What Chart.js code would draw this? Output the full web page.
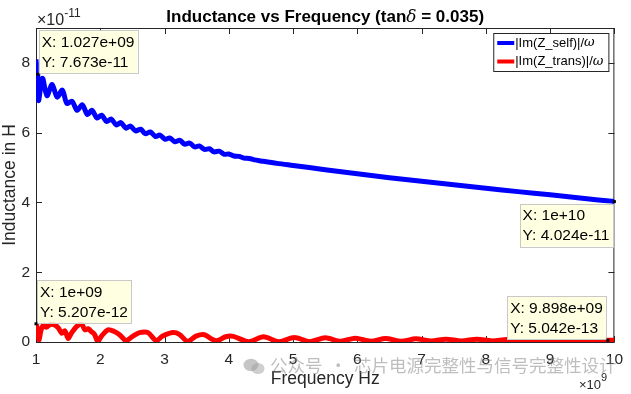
<!DOCTYPE html>
<html>
<head>
<meta charset="utf-8">
<script src="https://cdn.jsdelivr.net/npm/chart.js@4.4.1/dist/chart.umd.min.js"></script>
<style>
    html, body { margin: 0; padding: 0; background: #fff; }
    #wrap { position: relative; width: 631px; height: 394px; }
    #wm { position: absolute; left: 243px; top: 356px; white-space: nowrap;
          font: 17.5px "Noto Sans CJK SC", sans-serif; line-height: 18px;
          color: rgba(125,125,125,0.5); }
    #wm svg { vertical-align: top; margin-right: 5px; margin-top: 2px; }
</style>
</head>
<body>
<div id="wrap">
    <canvas id="myChart" width="631" height="394"></canvas>
    <div id="wm"><svg width="22" height="17" viewBox="0 0 22 17"><ellipse cx="8" cy="7" rx="7.5" ry="6.2" fill="rgba(140,140,140,0.5)"/><ellipse cx="15" cy="10.5" rx="6.5" ry="5.5" fill="rgba(160,160,160,0.5)"/></svg><span>公众号</span><span style="margin:0 7px">·</span><span>芯片电源完整性与信号完整性设计</span></div>
</div>
<script>
(function(){
    'use strict';

    // frequency in GHz (axis shows x10^9), inductance in 1e-11 H (axis shows x10^-11)
    const selfFreq = [1.00, 1.027, 1.04, 1.10, 1.17, 1.25, 1.33, 1.41, 1.48, 1.56, 1.64, 1.72, 1.80, 1.87, 1.95,
        2.02, 2.10, 2.17, 2.25, 2.32, 2.40, 2.47, 2.55, 2.63, 2.70, 2.78, 2.86, 2.93, 3.01, 3.08, 3.16,
        3.24, 3.31, 3.39, 3.47, 3.54, 3.62, 3.70, 3.77, 3.85, 3.93, 4.00, 4.08, 4.16, 4.24, 4.32, 4.40,
        4.50, 4.75, 5.00, 5.50, 6.00, 6.50, 7.00, 7.50, 8.00, 8.50, 9.00, 9.50, 10.00];
    const selfL = [8.10, 7.673, 6.92, 7.56, 7.06, 7.38, 7.02, 7.22, 6.84, 6.90, 6.64, 6.80, 6.52, 6.64, 6.42,
        6.50, 6.32, 6.39, 6.22, 6.29, 6.13, 6.19, 6.05, 6.10, 5.97, 6.02, 5.89, 5.93, 5.81, 5.85, 5.74,
        5.78, 5.67, 5.70, 5.59, 5.62, 5.52, 5.54, 5.45, 5.47, 5.38, 5.39, 5.33, 5.32, 5.27, 5.26, 5.22,
        5.19, 5.12, 5.06, 4.94, 4.82, 4.71, 4.61, 4.51, 4.41, 4.31, 4.22, 4.12, 4.024];

    const transFreq = [1.00, 1.02, 1.045, 1.08, 1.12, 1.16, 1.22, 1.29, 1.35, 1.40, 1.45, 1.50, 1.55, 1.63,
        1.71, 1.76, 1.81, 1.86, 1.91, 1.96, 2.02, 2.12, 2.22, 2.30, 2.40, 2.51, 2.61, 2.74, 2.87, 2.97,
        3.13, 3.23, 3.36, 3.49, 3.62, 3.72, 3.82, 3.95, 4.07, 4.31, 4.54, 4.78, 5.02, 5.26, 5.50, 5.74,
        5.97, 6.21, 6.44, 6.68, 6.91, 7.15, 7.38, 7.62, 7.86, 8.10, 8.33, 8.57, 8.80, 9.04, 9.27, 9.51,
        9.74, 9.898, 10.00];
    const transL = [0.5207, 0.40, 0.06, 0.35, 0.49, 0.42, 0.50, 0.49, 0.40, 0.25, 0.32, 0.10, 0.25, 0.44,
        0.52, 0.35, 0.38, 0.30, 0.22, 0.02, 0.17, 0.35, 0.30, 0.21, 0.04, 0.17, 0.27, 0.27, 0.04, 0.17,
        0.27, 0.22, 0.02, 0.17, 0.21, 0.10, 0.04, 0.15, 0.16, 0.01, 0.15, 0.01, 0.13, 0.01, 0.12, 0.02,
        0.11, 0.02, 0.10, 0.02, 0.09, 0.03, 0.08, 0.03, 0.08, 0.03, 0.07, 0.03, 0.07, 0.04, 0.06, 0.04,
        0.06, 0.05042, 0.05];

    const xTicks = [1, 2, 3, 4, 5, 6, 7, 8, 9, 10];
    const yTicks = [0, 2, 4, 6, 8];
    const seriesNames = ['|Im(Z_self)|/', '|Im(Z_trans)|/'];
    const seriesColors = ['#0000ff', '#ff0000'];

    // data tips shown on the figure
    const tipX = [1.027, 10, 1, 9.898];
    const tipY = [7.673, 4.024, 0.5207, 0.05042];
    const tipCorner = ['ne', 'sw', 'ne', 'nw'];

    const FONT = '"Liberation Sans", Arial, Helvetica, sans-serif';
    const AXIS = '#262626';

    function fmtG(v){
        let parts = v.toExponential(3).split('e');
        let m = parts[0].replace(/\.?0+$/, '');
        let sign = parts[1][0];
        let d = parts[1].slice(1);
        if (d.length < 2) d = '0' + d;
        return m + 'e' + sign + d;
    }

    const matlabLook = {
        id: 'matlabLook',
        beforeDatasetsDraw(chart){
            const ctx = chart.ctx;
            const a = chart.chartArea;
            const xs = chart.scales.x, ys = chart.scales.y;
            ctx.save();
            ctx.strokeStyle = AXIS;
            ctx.lineWidth = 1;
            ctx.strokeRect(a.left + 0.5, a.top + 0.5, a.right - a.left - 1, a.bottom - a.top);
            ctx.beginPath();
            xTicks.forEach(function(t){
                const px = Math.round(xs.getPixelForValue(t)) + 0.5;
                ctx.moveTo(px, a.bottom); ctx.lineTo(px, a.bottom - 6);
                ctx.moveTo(px, a.top); ctx.lineTo(px, a.top + 6);
            });
            yTicks.forEach(function(t){
                const py = Math.round(ys.getPixelForValue(t)) + 0.5;
                ctx.moveTo(a.left, py); ctx.lineTo(a.left + 6, py);
                ctx.moveTo(a.right, py); ctx.lineTo(a.right - 6, py);
            });
            ctx.stroke();
            ctx.restore();
        },
        afterDraw(chart){
            const ctx = chart.ctx;
            const a = chart.chartArea;
            const xs = chart.scales.x, ys = chart.scales.y;
            ctx.save();

            // title with italic delta
            const p1 = 'Inductance vs Frequency (tan', p2 = '\u03b4', p3 = ' = 0.035)';
            const fB = 'bold 17px ' + FONT, fI = 'italic 17px "DejaVu Serif", "Liberation Serif", serif';
            ctx.font = fB; const w1 = ctx.measureText(p1).width, w3 = ctx.measureText(p3).width;
            ctx.font = fI; const w2 = ctx.measureText(p2).width;
            let tx = (a.left + a.right) / 2 - (w1 + w2 + w3) / 2;
            ctx.fillStyle = '#000';
            ctx.textBaseline = 'alphabetic';
            ctx.textAlign = 'left';
            ctx.font = fB; ctx.fillText(p1, tx, 22);
            ctx.font = fI; ctx.fillText(p2, tx + w1, 22);
            ctx.font = fB; ctx.fillText(p3, tx + w1 + w2, 22);

            // exponent labels
            ctx.fillStyle = AXIS;
            ctx.font = '16px ' + FONT;
            ctx.fillText('\u00d710', a.left + 1, 25);
            let ew = ctx.measureText('\u00d710').width;
            ctx.font = '12px ' + FONT;
            ctx.fillText('-11', a.left + 1 + ew, 17);
            ctx.font = '13px ' + FONT;
            ctx.fillText('\u00d710', 579, 389);
            ew = ctx.measureText('\u00d710').width;
            ctx.font = '11px ' + FONT;
            ctx.fillText('9', 579 + ew, 381);

            // legend
            const fN = '13px ' + FONT;
            const fW = 'italic 13px "DejaVu Serif", "Liberation Serif", serif';
            let lw = 0;
            seriesNames.forEach(function(n){
                ctx.font = fN; let w = ctx.measureText(n).width;
                ctx.font = fW; w += ctx.measureText('\u03c9').width;
                lw = Math.max(lw, w);
            });
            const bw = lw + 27, bh = 38;
            const bx = a.right - 6 - bw, by = a.top + 5;
            ctx.fillStyle = '#fff';
            ctx.fillRect(bx, by, bw, bh);
            ctx.strokeStyle = AXIS;
            ctx.lineWidth = 1;
            ctx.strokeRect(bx + 0.5, by + 0.5, bw, bh);
            seriesNames.forEach(function(n, i){
                const ly = by + 10 + i * 18.5;
                ctx.strokeStyle = seriesColors[i];
                ctx.lineWidth = 4;
                ctx.beginPath(); ctx.moveTo(bx + 4, ly); ctx.lineTo(bx + 21, ly); ctx.stroke();
                ctx.fillStyle = '#000';
                ctx.textBaseline = 'middle';
                ctx.font = fN;
                ctx.fillText(n, bx + 22, ly);
                const nw = ctx.measureText(n).width;
                ctx.font = fW;
                ctx.fillText('\u03c9', bx + 22 + nw, ly);
            });

            // data tips
            ctx.font = '15.5px ' + FONT;
            tipX.forEach(function(x, i){
                const px = xs.getPixelForValue(x), py = ys.getPixelForValue(tipY[i]);
                const l1 = 'X: ' + fmtG(x * 1e9), l2 = 'Y: ' + fmtG(tipY[i] * 1e-11);
                const w = Math.max(ctx.measureText(l1).width, ctx.measureText(l2).width) + 6;
                const h = 43;
                const c = tipCorner[i];
                const left = c.indexOf('e') >= 0 ? px + 1 : px - 2 - w;
                const top = c.indexOf('n') >= 0 ? py - 1 - h : py + 2;
                ctx.fillStyle = '#ffffe1';
                ctx.fillRect(left, top, w, h);
                ctx.strokeStyle = '#c8c8c8';
                ctx.lineWidth = 1;
                ctx.strokeRect(Math.round(left) + 0.5, Math.round(top) + 0.5, Math.round(w), h);
                ctx.fillStyle = '#000';
                ctx.textBaseline = 'middle';
                ctx.textAlign = 'left';
                ctx.fillText(l1, left + 3, top + 12.5);
                ctx.fillText(l2, left + 3, top + 32.5);
                ctx.fillRect(px - 1.5, py - 1.5, 3, 3);
            });
            ctx.restore();
        }
    };

    const ctx = document.querySelector('#myChart');

    new Chart(ctx, {
        type: 'line',
        data: {
            datasets: [
                {
                    label: seriesNames[0],
                    data: selfFreq.map(function(f, i){ return {x: f, y: selfL[i]}; }),
                    borderColor: seriesColors[0],
                    borderWidth: 5,
                    pointRadius: 0,
                    tension: 0.3,
                    fill: false
                },
                {
                    label: seriesNames[1],
                    data: transFreq.map(function(f, i){ return {x: f, y: transL[i]}; }),
                    borderColor: seriesColors[1],
                    borderWidth: 5,
                    pointRadius: 0,
                    tension: 0.3,
                    fill: false
                }
            ]
        },
        options: {
            responsive: false,
            animation: false,
            devicePixelRatio: 1,
            layout: { padding: { top: 28, right: 14, left: 0, bottom: 0 } },
            plugins: {
                legend: { display: false },
                title: { display: false },
                tooltip: { enabled: false }
            },
            scales: {
                x: {
                    type: 'linear',
                    min: 1,
                    max: 10,
                    afterFit: function(s){ s.height = 52; },
                    afterBuildTicks: function(s){ s.ticks = xTicks.map(function(v){ return {value: v}; }); },
                    grid: { display: false, drawTicks: false },
                    border: { display: false },
                    ticks: {
                        padding: 8,
                        color: AXIS,
                        font: { family: FONT, size: 15.5 },
                        maxRotation: 0,
                        callback: function(v){ return String(v); }
                    },
                    title: {
                        display: true,
                        text: 'Frequency Hz',
                        color: AXIS,
                        font: { family: FONT, size: 17.5 },
                        padding: { top: 3, bottom: 4 }
                    }
                },
                y: {
                    min: 0,
                    max: 9,
                    afterFit: function(s){ s.width = 36; },
                    afterBuildTicks: function(s){ s.ticks = yTicks.map(function(v){ return {value: v}; }); },
                    grid: { display: false, drawTicks: false },
                    border: { display: false },
                    ticks: {
                        padding: 6,
                        color: AXIS,
                        font: { family: FONT, size: 15.5 },
                        callback: function(v){ return String(v); }
                    },
                    title: {
                        display: true,
                        text: 'Inductance in H',
                        color: AXIS,
                        font: { family: FONT, size: 17.5 },
                        padding: 0
                    }
                }
            }
        },
        plugins: [matlabLook]
    });
})();
</script>
</body>
</html>
